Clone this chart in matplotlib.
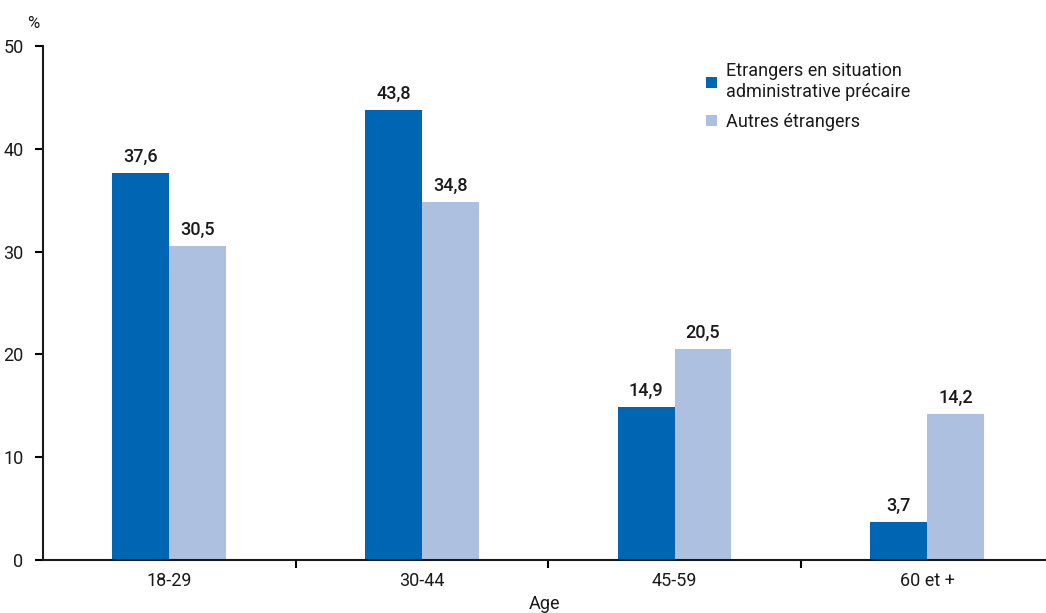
import matplotlib.pyplot as plt
import numpy as np

ages = ["18-29", "30-44", "45-59", "60 et +"]
precaires = [37.6, 43.8, 14.9, 3.7]
autres = [30.5, 34.8, 20.5, 14.2]
series_names = ["Etrangers en situation\nadministrative précaire", "Autres étrangers"]
y_ticks = [0, 10, 20, 30, 40, 50]

dark_blue = "#0066b3"
light_blue = "#aec0e0"
ink = "#1a1a1a"

plt.rcParams['font.family'] = ['Roboto', 'DejaVu Sans']

fig = plt.figure(figsize=(10.46, 6.13), dpi=100)
ax = fig.add_axes([0.041, 0.0865, 0.959, 0.8385])

x = np.arange(len(ages))
w = 0.225
b1 = ax.bar(x - w / 2, precaires, w, color=dark_blue, label=series_names[0])
b2 = ax.bar(x + w / 2, autres, w, color=light_blue, label=series_names[1])

def fmt(v):
    return f"{v:.1f}".replace(".", ",")

for bars, vals in ((b1, precaires), (b2, autres)):
    for rect, v in zip(bars, vals):
        ax.text(rect.get_x() + rect.get_width() / 2, v + 0.7, fmt(v),
                ha="center", va="bottom", fontsize=13, color=ink, fontweight="medium")

ax.set_xlim(-0.5, 3.47)
ax.set_ylim(0, 50)
ax.set_yticks(y_ticks)
ax.set_yticklabels([str(t) for t in y_ticks], fontsize=13, color=ink)
ax.set_xticks(x)
ax.set_xticklabels(ages, fontsize=13, color=ink)
ax.tick_params(axis="x", which="major", length=0, pad=9)
ax.set_xticks([0.5, 1.5, 2.5], minor=True)
ax.tick_params(axis="x", which="minor", length=6, width=1.5, direction="out")
ax.tick_params(axis="y", length=6, width=1.5, direction="out", pad=8)

for s in ["top", "right"]:
    ax.spines[s].set_visible(False)
for s in ["left", "bottom"]:
    ax.spines[s].set_linewidth(1.5)
    ax.spines[s].set_color(ink)

ax.set_xlabel("Age", fontsize=13, color=ink, labelpad=3)
fig.text(0.032, 0.962, "%", fontsize=12, color=ink, ha="center", va="center")

ax.legend(loc="upper left", bbox_to_anchor=(0.645, 1.0), frameon=False,
          fontsize=13, handlelength=0.6, handleheight=0.6, handletextpad=0.5,
          labelspacing=0.65, labelcolor=ink)

fig.savefig("out.png", dpi=100)
